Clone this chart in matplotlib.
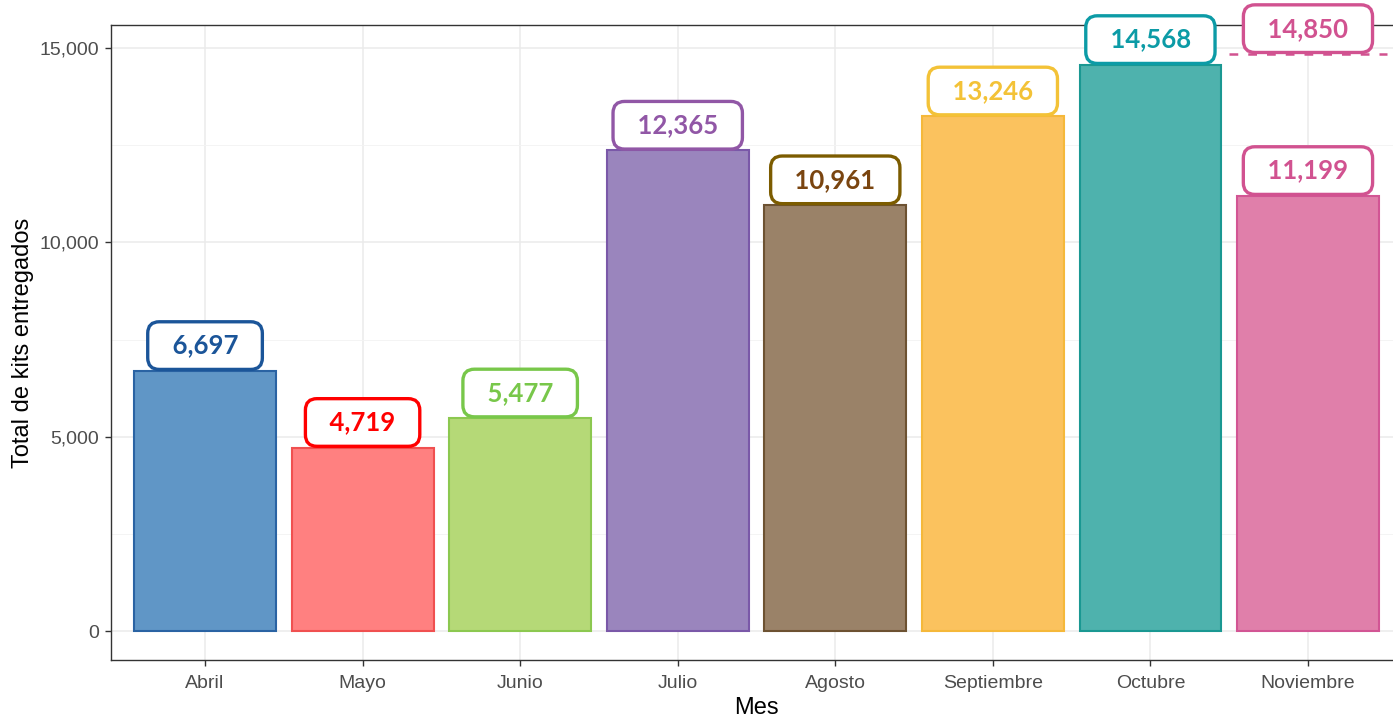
import numpy as np
import matplotlib
matplotlib.use("Agg")
import matplotlib.pyplot as plt
from matplotlib.ticker import FuncFormatter, MultipleLocator

# datos
meses = ["Abril", "Mayo", "Junio", "Julio", "Agosto", "Septiembre", "Octubre", "Noviembre"]
kits = [6697, 4719, 5477, 12365, 10961, 13246, 14568, 11199]
proyeccion_mes = "Noviembre"
proyeccion = 14850

relleno = ["#6096C6", "#FF8080", "#B5D977", "#9A85BD", "#9A8268", "#FBC25E", "#4EB2AD", "#E07FAA"]
borde_barra = ["#2A63A3", "#F05050", "#8CC850", "#7A58A8", "#6D5232", "#F5B83A", "#1A9892", "#D25594"]
color_etiq = ["#1B5599", "#FF0000", "#78C74A", "#9157A6", "#7C5C00", "#F3C237", "#0C9BA6", "#D15290"]
color_txt = ["#1B5599", "#FF0000", "#78C74A", "#9157A6", "#7A4510", "#F3C237", "#0C9BA6", "#D15290"]

plt.rcParams['font.family'] = ['Liberation Sans', 'DejaVu Sans']

fig = plt.figure(figsize=(13.93, 7.18), dpi=100)
ax = fig.add_axes([110.5 / 1393, 58 / 718, 1292 / 1393, 635 / 718])

x = np.arange(len(meses))
ax.bar(x, kits, width=0.9, color=relleno, edgecolor=borde_barra, linewidth=1.5, zorder=2)

pad = 0.46
fs = 18.5
def etiqueta(xi, val, c_txt, c_box):
    ax.annotate(f"  {val:,}  ", xy=(xi, val), xytext=(0, pad * fs + 1.0), textcoords="offset points",
                ha="center", va="bottom", fontsize=fs, fontweight="bold", family="Lato",
                color=c_txt, zorder=5, annotation_clip=False,
                bbox=dict(boxstyle=f"round,pad={pad},rounding_size=0.45", fc="white",
                          ec=c_box, lw=2.4))

for i, v in enumerate(kits):
    etiqueta(x[i], v, color_txt[i], color_etiq[i])

# proyeccion
ip = meses.index(proyeccion_mes)
ax.hlines(proyeccion, ip - 0.5, ip + 0.5, colors=color_etiq[ip], linestyles=(0, (3.5, 4)), lw=1.8, zorder=3)
etiqueta(ip, proyeccion, color_txt[ip], color_etiq[ip])

ax.set_xlim(-0.6, len(meses) - 0.4)
ax.set_ylim(-742.5, 15592.5)
ax.set_xticks(x)
ax.set_xticklabels(meses)
ax.yaxis.set_major_locator(MultipleLocator(5000))
ax.yaxis.set_minor_locator(MultipleLocator(2500))
ax.yaxis.set_major_formatter(FuncFormatter(lambda v, p: f"{int(v):,}"))
ax.grid(which="major", color="#EBEBEB", lw=1.1, zorder=0)
ax.grid(which="minor", axis="y", color="#F3F3F3", lw=0.6, zorder=0)
ax.tick_params(axis="y", which="minor", length=0)
ax.tick_params(which="major", length=4.5, width=1, color="#333333", labelsize=14, labelcolor="#4D4D4D")
ax.tick_params(axis="x", pad=6)
ax.set_axisbelow(True)
for s in ax.spines.values():
    s.set_color("#333333")
    s.set_linewidth(1)

ax.set_xlabel("Mes", fontsize=17, labelpad=4)
ax.set_ylabel("Total de kits entregados", fontsize=17, labelpad=4)

fig.savefig("out.png", dpi=100)
